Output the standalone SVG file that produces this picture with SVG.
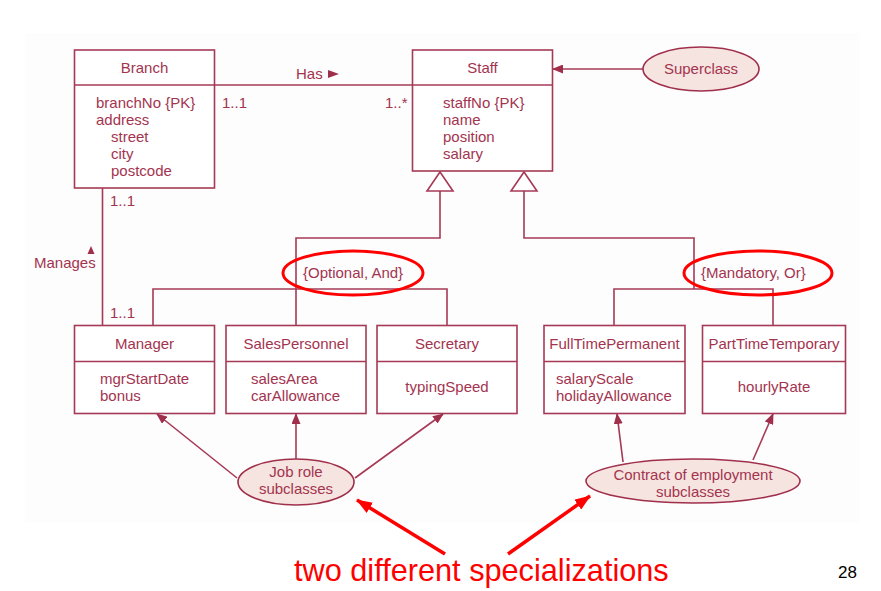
<svg xmlns="http://www.w3.org/2000/svg" width="881" height="591" viewBox="0 0 881 591">
  <style>
    .box { fill: #ffffff; stroke: #a63a56; stroke-width: 1.6; }
    .ln { fill: none; stroke: #a63a56; stroke-width: 1.6; }
    .t { font-family: "Liberation Sans", Arial, sans-serif; font-size: 15px; fill: #a3344f; }
    .c { text-anchor: middle; }
    .note { fill: #f6e4e0; stroke: #a02f4c; stroke-width: 1.6; }
    .red { fill: none; stroke: #ff0000; stroke-width: 3; }
    .redarrow { fill: none; stroke: #ff0000; stroke-width: 3.5; }
    .gen { fill: #ffffff; stroke: #a63a56; stroke-width: 1.6; }
  </style>
  <defs>
    <marker id="head" markerUnits="userSpaceOnUse" markerWidth="11" markerHeight="9" refX="10" refY="4.5" orient="auto">
      <path d="M0,0 L11,4.5 L0,9 z" fill="#a02f4c"/>
    </marker>
    <marker id="redhead" markerUnits="userSpaceOnUse" markerWidth="16" markerHeight="12" refX="15" refY="6" orient="auto">
      <path d="M0,0 L16,6 L0,12 z" fill="#ff0000"/>
    </marker>
  </defs>

  <rect x="0" y="0" width="881" height="591" fill="#ffffff"/>
  <rect x="25" y="33" width="835" height="490" fill="#fdfdfd"/>

  <!-- connectors -->
  <g id="connectors">
    <!-- Branch Has Staff -->
    <line class="ln" x1="214" y1="85" x2="413" y2="85"/>
    <!-- Branch Manages Manager -->
    <line class="ln" x1="102.5" y1="188" x2="102.5" y2="325"/>
    <!-- Superclass note to Staff -->
    <line class="ln" x1="643" y1="69" x2="553" y2="69" marker-end="url(#head)"/>
    <!-- job role specialization -->
    <polyline class="ln" points="440,191 440,238 296,238 296,325"/>
    <polyline class="ln" points="153,325 153,289 447,289 447,325"/>
    <polygon class="gen" points="440,172 453,191 427,191"/>
    <!-- contract specialization -->
    <polyline class="ln" points="524,191 524,238 694,238 694,289"/>
    <polyline class="ln" points="614,325 614,289 773,289 773,325"/>
    <polygon class="gen" points="524,172 537,191 511,191"/>
    <!-- note arrows -->
    <line class="ln" x1="237" y1="478" x2="157" y2="414" marker-end="url(#head)"/>
    <line class="ln" x1="296" y1="459" x2="296" y2="414" marker-end="url(#head)"/>
    <line class="ln" x1="355" y1="478" x2="443" y2="414" marker-end="url(#head)"/>
    <line class="ln" x1="623" y1="462" x2="617" y2="414" marker-end="url(#head)"/>
    <line class="ln" x1="753" y1="460" x2="773" y2="414" marker-end="url(#head)"/>
    <!-- red pointer arrows -->
    <line class="redarrow" x1="445" y1="554" x2="357" y2="500" marker-end="url(#redhead)"/>
    <line class="redarrow" x1="508" y1="554" x2="590" y2="496" marker-end="url(#redhead)"/>
  </g>

  <!-- association labels -->
  <g id="labels">
    <text class="t" x="296" y="79">Has</text>
    <polygon points="328,70 339,74 328,78" fill="#a02f4c"/>
    <text class="t" x="222" y="108">1..1</text>
    <text class="t" x="385" y="108">1..*</text>
    <text class="t" x="110" y="206">1..1</text>
    <text class="t" x="110" y="318">1..1</text>
    <polygon points="91,246 94.5,254 87.5,254" fill="#a02f4c"/>
    <text class="t" x="34" y="268">Manages</text>
  </g>

  <g id="Branch">
    <rect class="box" x="74.5" y="50" width="140" height="138"/>
    <line class="ln" x1="74.5" y1="85" x2="214.5" y2="85"/>
    <text class="t c" x="144.5" y="73">Branch</text>
    <text class="t" x="96" y="108">branchNo {PK}</text>
    <text class="t" x="96" y="125">address</text>
    <text class="t" x="111" y="142">street</text>
    <text class="t" x="111" y="159">city</text>
    <text class="t" x="111" y="176">postcode</text>
  </g>

  <g id="Staff">
    <rect class="box" x="412.5" y="50" width="140" height="121"/>
    <line class="ln" x1="412.5" y1="85" x2="552.5" y2="85"/>
    <text class="t c" x="482.5" y="73">Staff</text>
    <text class="t" x="443" y="108">staffNo {PK}</text>
    <text class="t" x="443" y="125">name</text>
    <text class="t" x="443" y="142">position</text>
    <text class="t" x="443" y="159">salary</text>
  </g>

  <g id="Superclass">
    <ellipse class="note" cx="701" cy="69" rx="58" ry="22"/>
    <text class="t c" x="701" y="74">Superclass</text>
  </g>

  <g id="OptionalAnd">
    <text class="t" x="303" y="278">{Optional, And}</text>
    <ellipse class="red" cx="353" cy="273" rx="70" ry="22"/>
  </g>

  <g id="MandatoryOr">
    <text class="t" x="701" y="278">{Mandatory, Or}</text>
    <ellipse class="red" cx="758" cy="273" rx="74" ry="22"/>
  </g>

  <g id="Manager">
    <rect class="box" x="74.5" y="325.5" width="140" height="88"/>
    <line class="ln" x1="74.5" y1="361.5" x2="214.5" y2="361.5"/>
    <text class="t c" x="144.5" y="349">Manager</text>
    <text class="t" x="100" y="384">mgrStartDate</text>
    <text class="t" x="100" y="401">bonus</text>
  </g>

  <g id="SalesPersonnel">
    <rect class="box" x="226" y="325.5" width="140" height="88"/>
    <line class="ln" x1="226" y1="361.5" x2="366" y2="361.5"/>
    <text class="t c" x="296" y="349">SalesPersonnel</text>
    <text class="t" x="251" y="384">salesArea</text>
    <text class="t" x="251" y="401">carAllowance</text>
  </g>

  <g id="Secretary">
    <rect class="box" x="377" y="325.5" width="140" height="88"/>
    <line class="ln" x1="377" y1="361.5" x2="517" y2="361.5"/>
    <text class="t c" x="447" y="349">Secretary</text>
    <text class="t c" x="447" y="392">typingSpeed</text>
  </g>

  <g id="FullTimePermanent">
    <rect class="box" x="544" y="325.5" width="141" height="88"/>
    <line class="ln" x1="544" y1="361.5" x2="685" y2="361.5"/>
    <text class="t c" x="614.5" y="349">FullTimePermanent</text>
    <text class="t" x="556" y="384">salaryScale</text>
    <text class="t" x="556" y="401">holidayAllowance</text>
  </g>

  <g id="PartTimeTemporary">
    <rect class="box" x="702.5" y="325.5" width="143" height="88"/>
    <line class="ln" x1="702.5" y1="361.5" x2="845.5" y2="361.5"/>
    <text class="t c" x="774" y="349">PartTimeTemporary</text>
    <text class="t c" x="774" y="392">hourlyRate</text>
  </g>

  <g id="JobRole">
    <ellipse class="note" cx="296" cy="482" rx="58" ry="23"/>
    <text class="t c" x="296" y="477">Job role</text>
    <text class="t c" x="296" y="494">subclasses</text>
  </g>

  <g id="Contract">
    <ellipse class="note" cx="693" cy="481" rx="107" ry="22"/>
    <text class="t c" x="693" y="480">Contract of employment</text>
    <text class="t c" x="693" y="497">subclasses</text>
  </g>

  <g id="caption">
    <text x="294" y="581" font-family="'Liberation Sans', Arial, sans-serif" font-size="30.7" fill="#ff0000">two different specializations</text>
    <text x="838" y="578" font-family="'Liberation Sans', Arial, sans-serif" font-size="17" fill="#000000">28</text>
  </g>
</svg>
